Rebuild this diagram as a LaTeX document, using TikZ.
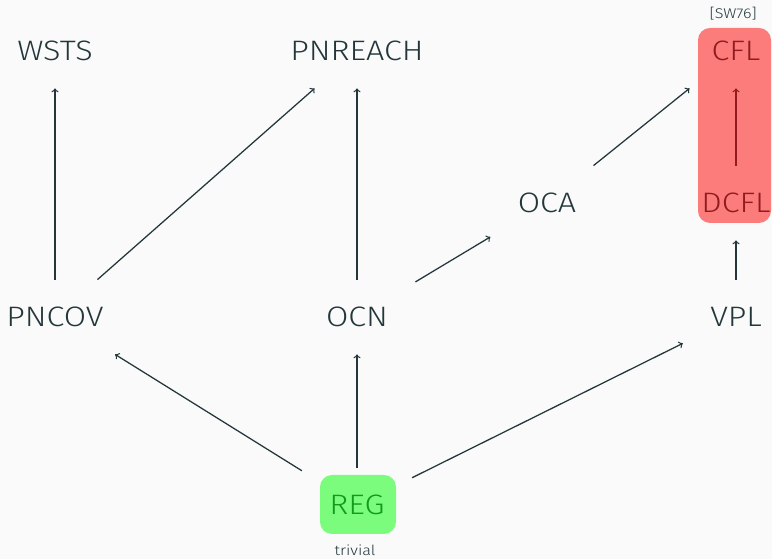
\documentclass[tikz,border=0pt]{standalone}
\usepackage{fontspec}
\setmainfont{Fira Sans Light}[FakeStretch=1.15]
\definecolor{dteal}{HTML}{23373B}
\definecolor{bgray}{HTML}{FAFAFA}
\begin{document}
\begin{tikzpicture}[x=1cm,y=1cm]
	\tikzset{cls/.style={inner sep=0.68cm,text=dteal,font=\fontsize{20}{24}\selectfont},
	         inc/.style={->,draw=dteal,line width=0.9pt},
	         note/.style={inner sep=0pt,text=dteal,font=\fontsize{10}{12}\selectfont}}
	\fill[bgray] (0,0) rectangle (19.3,13.975);
	\useasboundingbox (0,0) rectangle (19.3,13.975);
	\node[cls] (wsts) at (1.375,12.7) {WSTS};
	\node[cls] (pnreach) at (8.925,12.7) {PNREACH};
	\node[cls] (cfl) at (18.4,12.7) {CFL};
	\node[cls] (oca) at (13.675,8.9) {OCA};
	\node[cls] (dcfl) at (18.4,8.9) {DCFL};
	\node[cls] (pncov) at (1.375,6.05) {PNCOV};
	\node[cls] (ocn) at (8.925,6.05) {OCN};
	\node[cls] (vpl) at (18.4,6.05) {VPL};
	\node[cls] (reg) at (8.925,1.35) {REG};
	\node[note] (sw) at (18.33,13.625) {[SW76]};
	\node[note] (triv) at (8.875,0.225) {trivial};
	\draw[inc] (pncov)--(wsts);
	\draw[inc] (pncov)--(pnreach);
	\draw[inc] (ocn)--(pnreach);
	\draw[inc] (ocn)--(oca);
	\draw[inc] (oca)--(cfl);
	\draw[inc] (dcfl)--(cfl);
	\draw[inc] (vpl)--(dcfl);
	\draw[inc] (reg)--(pncov);
	\draw[inc] (reg)--(ocn);
	\draw[inc] (reg)--(vpl);
	\fill[red,fill opacity=0.5,rounded corners=0.3cm] (17.45,8.4) rectangle (19.275,13.275);
	\fill[green,fill opacity=0.5,rounded corners=0.3cm] (8.0,0.625) rectangle (9.9,2.1);
\end{tikzpicture}
\end{document}
